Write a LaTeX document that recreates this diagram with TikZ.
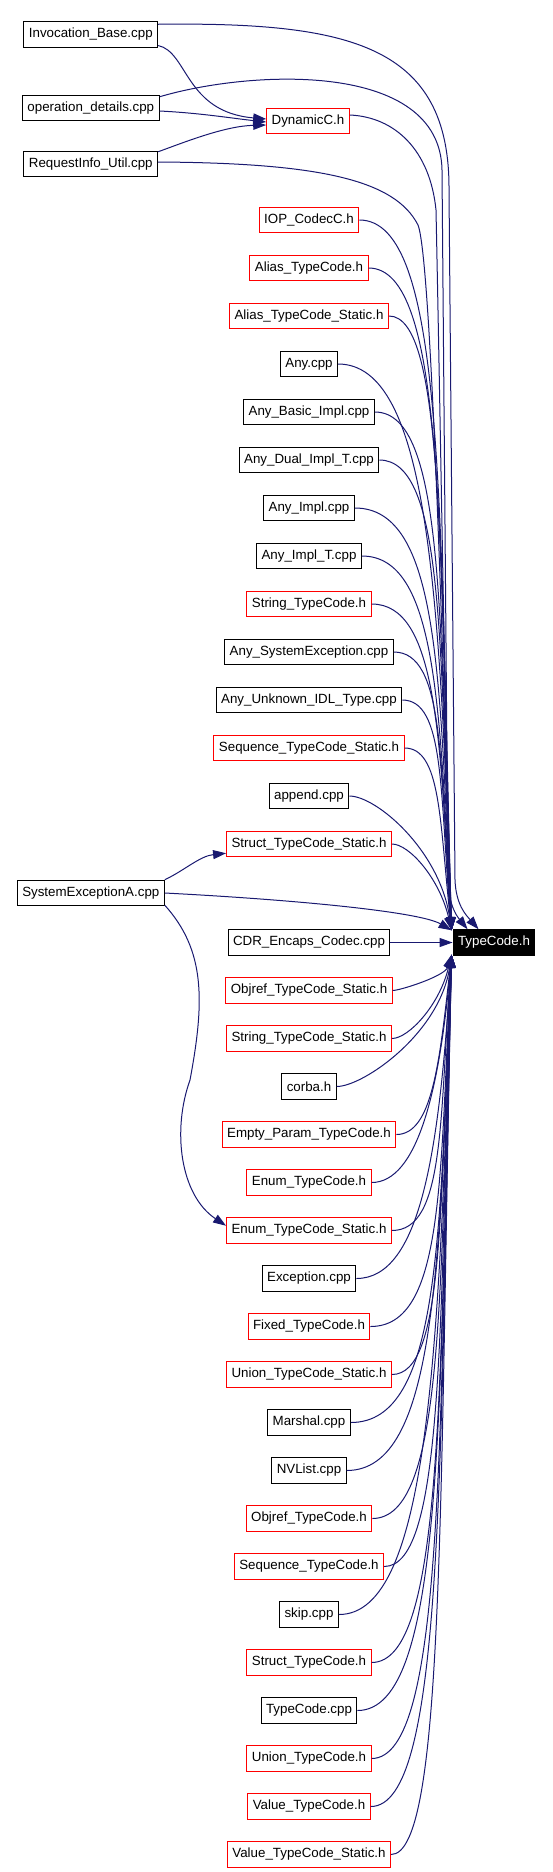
\documentclass[tikz,border=0pt]{standalone}
\usepackage{fontspec}
\setmainfont{Liberation Sans}
\usetikzlibrary{arrows.meta,calc}
\definecolor{edgeblue}{HTML}{191970}
\tikzset{
  nd/.style={draw=black, line width=1pt, rectangle, minimum height=25.5pt,
    inner xsep=5pt, inner ysep=0pt, text=black,
    font=\fontsize{13.33pt}{16pt}\selectfont},
  ndtc/.style={nd, fill=black, text=white},
  edge/.style={draw=edgeblue, line width=1pt, -{Triangle[length=13pt,width=9pt]}},
}
\begin{document}
\begin{tikzpicture}[x=1pt,y=1pt]
\useasboundingbox (0,0) rectangle (552,-1872);
% left column
\node[nd] (inv) at (90.8,-34.5) {Invocation\_Base.cpp};
\node[nd] (opd) at (90.8,-108) {operation\_details.cpp};
\node[nd] (req) at (90.8,-164) {RequestInfo\_Util.cpp};
\node[nd] (sys) at (90.8,-893) {SystemExceptionA.cpp};
\node[nd, draw=red] (dyn) at (308,-121) {DynamicC.h};
\node[ndtc] (tc) at (494,-942.5) {TypeCode.h};
% right column
\foreach \nm/\lb/\cl/\yy in {
  iop/IOP\_CodecC.h/red/220,
  atc/Alias\_TypeCode.h/red/268,
  atcs/Alias\_TypeCode\_Static.h/red/316,
  any/Any.cpp/black/364,
  anyb/Any\_Basic\_Impl.cpp/black/412,
  anyd/Any\_Dual\_Impl\_T.cpp/black/460,
  anyi/Any\_Impl.cpp/black/508,
  anyit/Any\_Impl\_T.cpp/black/556,
  stc/String\_TypeCode.h/red/604,
  anyse/Any\_SystemException.cpp/black/652,
  anyu/Any\_Unknown\_IDL\_Type.cpp/black/700,
  seqs/Sequence\_TypeCode\_Static.h/red/748,
  app/append.cpp/black/796,
  sts/Struct\_TypeCode\_Static.h/red/844,
  cdr/CDR\_Encaps\_Codec.cpp/black/942.5,
  objs/Objref\_TypeCode\_Static.h/red/990.5,
  strs/String\_TypeCode\_Static.h/red/1038.5,
  corba/corba.h/black/1086.5,
  empty/Empty\_Param\_TypeCode.h/red/1134.5,
  enum/Enum\_TypeCode.h/red/1182.5,
  enums/Enum\_TypeCode\_Static.h/red/1230.5,
  exc/Exception.cpp/black/1278.5,
  fixed/Fixed\_TypeCode.h/red/1326.5,
  unions/Union\_TypeCode\_Static.h/red/1374.5,
  marshal/Marshal.cpp/black/1422.5,
  nvl/NVList.cpp/black/1470.5,
  objref/Objref\_TypeCode.h/red/1518.5,
  seq/Sequence\_TypeCode.h/red/1566.5,
  skip/skip.cpp/black/1614.5,
  struct/Struct\_TypeCode.h/red/1662.5,
  tcc/TypeCode.cpp/black/1710.5,
  union/Union\_TypeCode.h/red/1758.5,
  value/Value\_TypeCode.h/red/1806.5,
  values/Value\_TypeCode\_Static.h/red/1854.5}
  \node[nd, draw=\cl] (\nm) at (309,-\yy) {\lb};

% edges from left column
\draw[edge] ($(inv.north east)+(0,-3)$) .. controls (350,-22) and (450,-45) .. (449,-190)
  -- (455,-880) .. controls (456,-905) and (466,-915) .. ($(tc.north west)+(26,0)$);
\draw[edge] ($(inv.east)+(0,-11)$) .. controls (188,-52) and (185,-112) .. ($(dyn.west)+(0,2)$);
\draw[edge] ($(opd.north east)+(0,-2)$) .. controls (250,-70) and (440,-60) .. (442,-170)
  -- (448,-880) .. controls (449,-905) and (456,-915) .. ($(tc.north west)+(15,0)$);
\draw[edge] ($(opd.east)+(0,-3)$) .. controls (200,-113) and (230,-118) .. ($(dyn.west)+(0,-1)$);
\draw[edge] ($(req.north east)+(0,-1)$) .. controls (185,-142) and (225,-126) .. ($(dyn.west)+(0,-4)$);
\draw[edge] ($(req.east)+(0,2)$) .. controls (320,-163) and (395,-180) .. (418,-225)
  .. controls (432,-260) and (444,-700) .. ($(tc.north west)+(-1,-1)$);
\draw[edge] ($(dyn.east)+(0,6)$) .. controls (395,-117) and (430,-150) .. (436,-210)
  .. controls (442,-500) and (446,-800) .. ($(tc.north west)+(-1,-1)$);
\draw[edge] ($(sys.north east)+(0,0)$) .. controls (185,-870) and (200,-856) .. ($(sts.south west)+(0,4)$);
\draw[edge] (sys.east) .. controls (300,-900) and (420,-912) .. ($(tc.north west)+(-1,-1)$);
\draw[edge] ($(sys.south east)+(0,1)$) .. controls (205,-950) and (205,-1000) .. (190,-1080)
  .. controls (172,-1130) and (180,-1195) .. ($(enums.north west)+(0,-8.5)$);
\draw[edge] (cdr.east) -- (tc.west);

% upper right column edges
\foreach \nm in {iop,atc,atcs,any,anyb,anyd,anyi,anyit,stc,anyse,anyu,seqs,app,sts}{
  \draw[edge] let \p1=(\nm.east), \p2=($(tc.north west)+(-1,-1)$), \n1={\y1-(\y2)} in
    (\p1) .. controls ({min(\x1+min(0.2*\n1,90),445)}, \y1)
      and ({\x2-min(0.18*\n1,12)}, {\y2+0.6*\n1}) .. (\p2);
}
% lower right column edges
\foreach \nm in {objs,strs,corba,empty,enum,enums,exc,fixed,unions,marshal,nvl,objref,seq,skip,struct,tcc,union,value,values}{
  \draw[edge] let \p1=(\nm.east), \p2=($(tc.south west)+(-1,1)$), \n1={\y2-(\y1)} in
    (\p1) .. controls ({min(\x1+min(0.2*\n1,90),445)}, \y1)
      and ({\x2-min(0.18*\n1,12)}, {\y2-0.6*\n1}) .. (\p2);
}
\end{tikzpicture}
\end{document}
